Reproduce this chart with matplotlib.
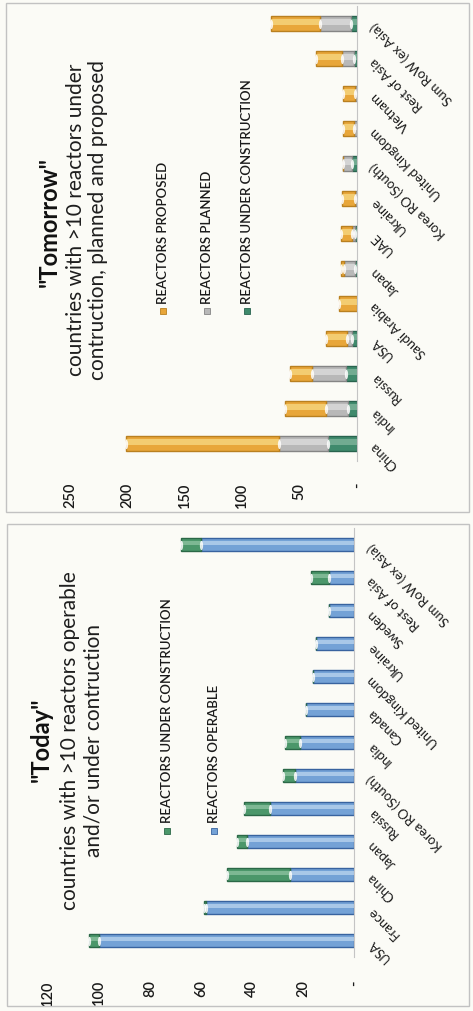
import numpy as np
import matplotlib.pyplot as plt
from matplotlib.patches import Rectangle
from matplotlib.path import Path

plt.rcParams['font.family'] = ['Lato', 'DejaVu Sans']

# "Today" chart data
today_countries = ['USA', 'France', 'China', 'Japan', 'Russia', 'Korea RO (South)', 'India',
                   'Canada', 'United Kingdom', 'Ukraine', 'Sweden', 'Rest of Asia', 'Sum RoW (ex Asia)']
today_operable = [100, 58, 25, 42, 33, 23, 21, 19, 16, 15, 10, 10, 60]
today_construction = [4, 1, 25, 4, 10, 5, 6, 0, 0, 0, 0, 7, 8]
today_ticks = [0, 20, 40, 60, 80, 100, 120]
today_ticklabels = ['-', '20', '40', '60', '80', '100', '120']

# "Tomorrow" chart data
tomorrow_countries = ['China', 'India', 'Russia', 'USA', 'Saudi Arabia', 'Japan', 'UAE', 'Ukraine',
                      'Korea RO (South)', 'United Kingdom', 'Vietnam', 'Rest of Asia', 'Sum RoW (ex Asia)']
tomorrow_construction = [25, 8, 10, 4, 0, 2, 2, 0, 4, 0, 0, 3, 5]
tomorrow_planned = [43, 19, 29, 5, 0, 9, 2, 2, 8, 3, 2, 10, 27]
tomorrow_proposed = [133, 36, 19, 18, 16, 3, 10, 11, 0, 9, 10, 23, 43]
tomorrow_ticks = [0, 50, 100, 150, 200, 250]
tomorrow_ticklabels = ['-', '50', '100', '150', '200', '250']

W, H = 473, 1012
BG = '#fbfbf6'

# (face, edge, highlight)
BLUE = ('#74a2d6', '#38639f', '#bcd5ef')
GREEN_T = ('#4b976a', '#2b6847', '#8fc4a2')
ORANGE = ('#e8a63a', '#b98020', '#f7d984')
GRAY = ('#b8b8b8', '#858585', '#dedede')
GREEN_M = ('#3f8a6c', '#28634e', '#82b79e')

# ellipse shaped marker for the cylinder caps
t = np.linspace(0, 2 * np.pi, 40)
cap = Path(np.column_stack([0.35 * np.cos(t), np.sin(t)]), closed=True)


def px(x, y):
    # pixel position (from top-left) to figure fraction
    return x / W, 1 - y / H


def draw_stack(ax, segments, styles, height):
    pos = np.arange(len(segments[0]), dtype=float)
    left = np.zeros(len(pos))
    for values, (face, edge, light) in zip(segments, styles):
        values = np.asarray(values, dtype=float)
        ax.barh(pos, values, left=left, height=height, color=face,
                edgecolor=edge, linewidth=1.0, zorder=2)
        ax.barh(pos + height * 0.1, values, left=left, height=height * 0.35,
                color=light, linewidth=0, alpha=0.75, zorder=2.5)
        ends = left + values
        keep = values > 0
        ax.scatter(ends[keep], pos[keep], marker=cap, s=45, color='white',
                   alpha=0.85, linewidths=0, zorder=3)
        left = ends


def style_axis(ax, countries, ticks, ticklabels, xmax, xpad):
    ax.set_xlim(xmax, 0)
    ax.set_ylim(-0.5, len(countries) - 0.5)
    ax.set_xticks(ticks)
    ax.set_xticklabels(ticklabels, rotation=90, fontsize=10.5,
                       fontweight='semibold', color='#1a1a1a')
    ax.tick_params(axis='x', length=0, pad=xpad)
    ax.yaxis.tick_right()
    ax.set_yticks(np.arange(len(countries)))
    ax.set_yticklabels(countries, rotation=135, rotation_mode='anchor',
                       ha='right', va='center', fontsize=9.5, color='#1a1a1a')
    ax.tick_params(axis='y', length=0, pad=11)
    for side in ['top', 'left', 'bottom']:
        ax.spines[side].set_visible(False)
    ax.spines['right'].set_color('#c4c4c4')
    ax.spines['right'].set_linewidth(0.8)
    ax.set_facecolor('none')


def legend_key(x, y, face, edge):
    fx, fy = px(x - 3, y + 3)
    fig.add_artist(Rectangle((fx, fy), 6 / W, 6 / H, transform=fig.transFigure,
                             facecolor=face, edgecolor=edge, linewidth=0.6))


def legend_text(x, y, label):
    fx, fy = px(x, y)
    fig.text(fx, fy, label, rotation=90, ha='center', va='bottom',
             fontsize=9.5, fontweight='semibold', color='#1a1a1a')


fig = plt.figure(figsize=(W / 100, H / 100), dpi=100, facecolor=BG)

# panel borders
for (x0, y0, x1, y1) in [(6, 4, 469, 513), (7, 525, 469, 1007)]:
    fx, fy = px(x0, y1)
    fig.add_artist(Rectangle((fx, fy), (x1 - x0) / W, (y1 - y0) / H,
                             transform=fig.transFigure, fill=False,
                             edgecolor='#c2c2c2', linewidth=1))

# ---- Tomorrow (top panel) ----
ax1 = fig.add_axes([70 / W, 1 - 462 / H, (357 - 70) / W, (462 - 7) / H])
draw_stack(ax1, [tomorrow_construction, tomorrow_planned, tomorrow_proposed],
           [GREEN_M, GRAY, ORANGE], 0.43)
style_axis(ax1, tomorrow_countries, tomorrow_ticks, tomorrow_ticklabels, 250, 15)

fig.text(*px(49, 222), '"Tomorrow"', rotation=90, ha='center', va='center',
         fontsize=17, fontweight='bold', color='#111111')
fig.text(*px(76, 220), 'countries with >10 reactors under', rotation=90,
         ha='center', va='center', fontsize=15, color='#1e1e1e')
fig.text(*px(98, 220), 'contruction, planned and proposed', rotation=90,
         ha='center', va='center', fontsize=15, color='#1e1e1e')

legend_key(163, 312, ORANGE[0], ORANGE[1])
legend_key(207, 312, GRAY[0], GRAY[1])
legend_key(247, 312, GREEN_M[0], GREEN_M[1])
legend_text(163, 304, 'REACTORS PROPOSED')
legend_text(207, 304, 'REACTORS PLANNED')
legend_text(247, 304, 'REACTORS UNDER CONSTRUCTION')

# ---- Today (bottom panel) ----
ax2 = fig.add_axes([48 / W, 1 - 958 / H, (354 - 48) / W, (958 - 529) / H])
draw_stack(ax2, [today_operable, today_construction], [BLUE, GREEN_T], 0.4)
style_axis(ax2, today_countries, today_ticks, today_ticklabels, 120, 16)

fig.text(*px(41, 740), '"Today"', rotation=90, ha='center', va='center',
         fontsize=17, fontweight='bold', color='#111111')
fig.text(*px(70, 741), 'countries with >10 reactors operable', rotation=90,
         ha='center', va='center', fontsize=15, color='#1e1e1e')
fig.text(*px(93, 741), 'and/or under contruction', rotation=90,
         ha='center', va='center', fontsize=15, color='#1e1e1e')

legend_key(167, 832, GREEN_T[0], GREEN_T[1])
legend_key(214, 832, BLUE[0], BLUE[1])
legend_text(167, 823, 'REACTORS UNDER CONSTRUCTION')
legend_text(214, 823, 'REACTORS OPERABLE')

fig.savefig('out.png', dpi=100, facecolor=BG)
